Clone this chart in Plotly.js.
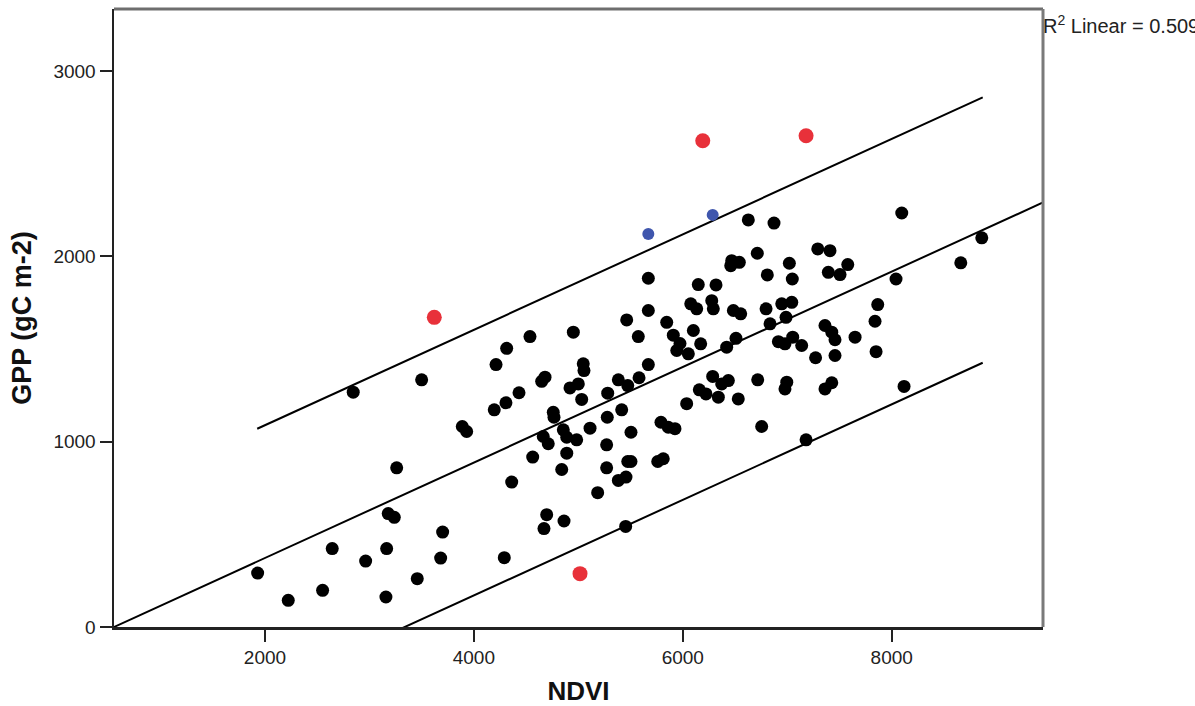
<!DOCTYPE html>
<html>
<head>
<meta charset="utf-8">
<script src="https://cdn.plot.ly/plotly-3.0.1.min.js"></script>
<style>html,body{margin:0;padding:0;background:#fff;}#chart{width:1195px;height:706px;}</style>
</head>
<body>
<div id="chart"></div>
<script>
// Observed points (NDVI, GPP)
var blackNDVI = [1930,2223,2552,2644,2845,2964,3165,3158,3261,3180,3238,3458,3500,3682,3701,3889,3931,4195,4212,4291,4307,4314,4362,4432,4537,4563,4649,4681,4664,4671,4697,4712,4760,4767,4841,4856,4863,4889,4889,4920,4952,4984,5000,5032,5047,5054,5112,5185,5271,5271,5277,5281,5383,5383,5415,5453,5456,5463,5473,5473,5504,5504,5574,5581,5670,5670,5670,5760,5791,5813,5846,5861,5909,5925,5942,5973,6037,6053,6076,6101,6133,6148,6158,6171,6222,6277,6286,6292,6318,6340,6372,6420,6436,6459,6468,6484,6509,6531,6541,6554,6627,6713,6717,6755,6797,6809,6835,6873,6915,6947,6978,6978,6988,6995,7020,7043,7048,7052,7138,7180,7271,7292,7361,7361,7393,7409,7426,7426,7457,7457,7505,7579,7649,7840,7850,7866,8041,8096,8118,8661,8862];
var blackGPP  = [291,144,198,423,1267,356,423,162,859,612,592,261,1334,372,512,1082,1055,1172,1416,374,1210,1504,782,1264,1567,917,1326,1348,1028,531,606,989,1159,1132,850,1064,572,1024,938,1290,1591,1010,1312,1228,1420,1384,1073,725,983,859,1132,1262,1334,791,1172,543,809,1657,893,1303,893,1051,1567,1345,1416,1708,1882,893,1105,908,1644,1078,1575,1070,1492,1530,1205,1474,1744,1600,1717,1848,1280,1528,1258,1761,1352,1717,1846,1240,1312,1510,1330,1950,1977,1708,1558,1231,1968,1690,2197,2017,1334,1082,1717,1900,1636,2180,1540,1744,1528,1285,1671,1321,1963,1752,1878,1564,1519,1010,1453,2040,1627,1285,1914,2031,1591,1318,1550,1465,1902,1956,1564,1650,1486,1740,1878,2234,1298,1965,2100];
var blueNDVI = [5670,6286];
var blueGPP  = [2121,2224];
var redNDVI  = [3621,5016,6191,7180];
var redGPP   = [1671,288,2624,2651];

// Fit line and prediction-interval lines (endpoints)
var fitX   = [555, 9448];
var fitY   = [0, 2291];
var bandX  = [1926, 8871];
var upperY = [1070, 2858];
var lowerY = [-364, 1426];

var xTicks = [2000,4000,6000,8000];
var yTicks = [0,1000,2000,3000];
var r2Text = 'R<sup>2</sup> Linear = 0.509';

var FONT = 'Liberation Sans, Arial, sans-serif';

var traces = [
  {x: fitX, y: fitY, mode:'lines', line:{color:'#000', width:2}, hoverinfo:'skip'},
  {x: bandX, y: upperY, mode:'lines', line:{color:'#000', width:2}, hoverinfo:'skip'},
  {x: bandX, y: lowerY, mode:'lines', line:{color:'#000', width:2}, hoverinfo:'skip'},
  {x: blackNDVI, y: blackGPP, mode:'markers', marker:{color:'#000', size:13, line:{width:0}}},
  {x: blueNDVI, y: blueGPP, mode:'markers', marker:{color:'#3f56ad', size:12, line:{width:0}}},
  {x: redNDVI, y: redGPP, mode:'markers', marker:{color:'#e8313a', size:15, line:{width:0}}}
];

var layout = {
  width:1195, height:706,
  margin:{l:114, r:152, t:9, b:79},
  paper_bgcolor:'#fff', plot_bgcolor:'#fff',
  showlegend:false,
  font:{family:FONT, color:'#222'},
  xaxis:{
    range:[555, 9448], tickvals:xTicks, ticktext:xTicks.map(String),
    ticks:'outside', ticklen:12, tickwidth:2, tickcolor:'#222',
    showgrid:false, zeroline:false, showline:true, linecolor:'#222', linewidth:2.5,
    tickfont:{size:19, color:'#222'},
    title:{text:'<b>NDVI</b>', font:{size:26, color:'#111'}, standoff:20}
  },
  yaxis:{
    range:[0, 3335], tickvals:yTicks, ticktext:yTicks.map(String),
    ticks:'outside', ticklen:12, tickwidth:2, tickcolor:'#222',
    showgrid:false, zeroline:false, showline:true, linecolor:'#222', linewidth:2.5,
    tickfont:{size:19, color:'#222'},
    title:{text:'<b>GPP (gC m-2)</b>', font:{size:27, color:'#111'}, standoff:14}
  },
  shapes:[
    {type:'line', xref:'paper', yref:'paper', x0:0, x1:1, y0:1, y1:1, line:{color:'#6e6e6e', width:3}},
    {type:'line', xref:'paper', yref:'paper', x0:1, x1:1, y0:0, y1:1, line:{color:'#7a7a7a', width:3}}
  ],
  annotations:[
    {text:r2Text, xref:'paper', yref:'paper', x:1, y:1, xanchor:'left', yanchor:'top', xshift:-2, yshift:-1,
     showarrow:false, font:{size:20, color:'#222'}}
  ]
};

Plotly.newPlot('chart', traces, layout, {displayModeBar:false, staticPlot:true});
</script>
</body>
</html>
